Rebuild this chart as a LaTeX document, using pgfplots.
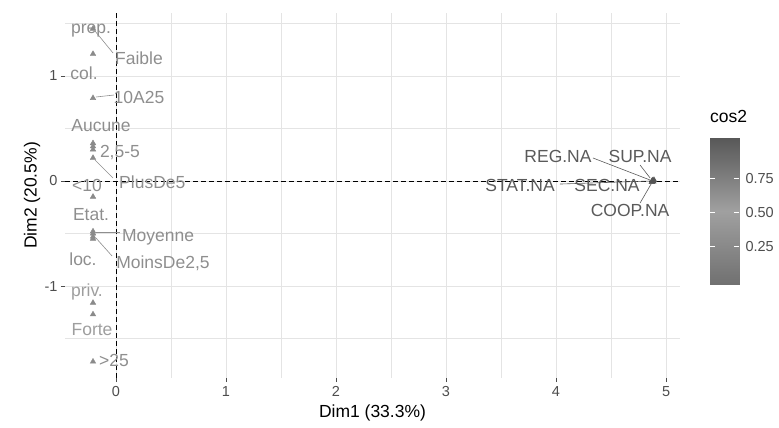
\documentclass[border=0pt]{standalone}
\usepackage{fontspec}
\setmainfont{Liberation Sans}
\usepackage{pgfplots}
\pgfplotsset{compat=1.18}
\definecolor{gridc}{HTML}{E4E4E4}
\definecolor{tickc}{HTML}{4D4D4D}
\definecolor{lab}{HTML}{8E8E8E}
\definecolor{labl}{HTML}{9E9E9E}
\definecolor{labdark}{HTML}{5A5A5A}
\definecolor{pt}{HTML}{8A8A8A}
\definecolor{ptdark}{HTML}{555555}
\begin{document}
\begin{tikzpicture}
\useasboundingbox (0,0) rectangle (779bp,428bp);
\begin{axis}[
  at={(65bp,50bp)}, anchor=south west, scale only axis,
  width=615bp, height=365bp,
  xmin=-0.4636, xmax=5.127, ymin=-1.876, ymax=1.6,
  axis line style={draw=none},
  xtick={0,1,2,3,4,5}, xticklabels={0,1,2,3,4,5},
  ytick={-1,0,1}, yticklabels={-1,0,1},
  minor xtick={-0.5,0.5,1.5,2.5,3.5,4.5},
  minor ytick={-1.5,-0.5,0.5,1.5},
  grid=both,
  major grid style={gridc, line width=0.9bp},
  minor grid style={gridc, line width=0.6bp},
  tick align=outside, major tick length=4bp, minor tick length=0pt,
  tick style={tickc, line width=0.8bp},
  xtick pos=bottom, ytick pos=left,
  ticklabel style={font=\fontsize{14.5bp}{16bp}\selectfont, text=tickc},
  xticklabel style={yshift=-1bp},
  label style={font=\fontsize{17.5bp}{19bp}\selectfont},
  xlabel={Dim1 (33.3\%)}, ylabel={Dim2 (20.5\%)},
  xlabel style={at={(axis description cs:0.5,-0.096)}, anchor=center},
  ylabel style={at={(axis description cs:-0.0537,0.5)}, anchor=center},
  clip=false,
]
% reference lines
\addplot[black, line width=0.8bp, dash pattern=on 4.5bp off 3.5bp] coordinates {(0,-1.876) (0,1.6)};
\addplot[black, line width=0.8bp, dash pattern=on 4.5bp off 3.5bp] coordinates {(-0.4636,0) (5.127,0)};
% connector segments (left)
\addplot[lab, line width=0.6bp] coordinates {(-0.191,1.4286) (-0.027,1.219)};
\addplot[lab, line width=0.6bp] coordinates {(-0.182,0.80) (-0.018,0.819)};
\addplot[lab, line width=0.6bp] coordinates {(-0.191,0.20) (-0.027,0.029)};
\addplot[lab, line width=0.6bp] coordinates {(-0.182,-0.486) (0.036,-0.486)};
\addplot[lab, line width=0.6bp] coordinates {(-0.182,-0.543) (-0.036,-0.714)};
% connector segments (right)
\addplot[labdark, line width=0.6bp] coordinates {(4.336,0.219) (4.855,0.0095)};
\addplot[labdark, line width=0.6bp] coordinates {(4.764,0.152) (4.855,0.029)};
\addplot[labdark, line width=0.6bp] coordinates {(4.036,-0.029) (4.855,0.0)};
\addplot[labdark, line width=0.6bp] coordinates {(4.764,-0.21) (4.864,-0.029)};
% points
\addplot[only marks, mark=triangle*, mark size=3.2bp, color=pt] coordinates {
(-0.209,1.45) (-0.209,1.21) (-0.209,0.79) (-0.209,0.36) (-0.209,0.33) (-0.209,0.30)
(-0.209,0.22) (-0.209,-0.15) (-0.209,-0.48) (-0.209,-0.50) (-0.209,-0.53) (-0.209,-0.55)
(-0.209,-1.16) (-0.209,-1.27) (-0.209,-1.72)};
\addplot[only marks, mark=triangle*, mark size=3.2bp, color=ptdark] coordinates {
(4.88,0.0) (4.89,0.01) (4.87,-0.01) (4.885,-0.005) (4.875,0.005)};
% labels
\begin{scope}[every node/.style={font=\fontsize{17.5bp}{19bp}\selectfont, inner sep=0pt, anchor=center}]
\node[text=lab] at (axis cs:-0.227,1.43) {prep.};
\node[text=lab] at (axis cs:0.209,1.171) {Faible};
\node[text=lab] at (axis cs:-0.29,1.03) {col.};
\node[text=lab] at (axis cs:0.209,0.80) {10A25};
\node[text=lab] at (axis cs:-0.136,0.524) {Aucune};
\node[text=lab] at (axis cs:0.036,0.267) {2,5-5};
\node[text=lab] at (axis cs:0.33,-0.01) {PlusDe5};
\node[text=lab] at (axis cs:-0.264,-0.038) {<10};
\node[text=lab] at (axis cs:-0.227,-0.324) {Etat.};
\node[text=lab] at (axis cs:0.382,-0.533) {Moyenne};
\node[text=lab] at (axis cs:0.427,-0.78) {MoinsDe2,5};
\node[text=lab] at (axis cs:-0.3,-0.743) {loc.};
\node[text=labl] at (axis cs:-0.264,-1.057) {priv.};
\node[text=labl] at (axis cs:-0.218,-1.419) {Forte};
\node[text=lab] at (axis cs:-0.018,-1.705) {>25};
\node[text=labdark] at (axis cs:4.018,0.229) {REG.NA};
\node[text=labdark] at (axis cs:4.764,0.229) {SUP.NA};
\node[text=labdark] at (axis cs:3.673,-0.038) {STAT.NA};
\node[text=labdark] at (axis cs:4.464,-0.038) {SEC.NA};
\node[text=labdark] at (axis cs:4.673,-0.276) {COOP.NA};
\end{scope}
\end{axis}
% colour bar
\begin{axis}[
  at={(710bp,143bp)}, anchor=south west, scale only axis,
  width=29bp, height=147bp,
  xmin=0, xmax=1, ymin=-0.03, ymax=1.05,
  axis line style={draw=none},
  xtick=\empty,
  ytick={0.25,0.5,0.75}, yticklabels={0.25,0.50,0.75},
  ytick pos=both, yticklabel pos=right,
  tick align=inside, major tick length=5bp,
  tick style={white, line width=0.9bp},
  yticklabel style={font=\fontsize{14.5bp}{16bp}\selectfont, text=tickc, xshift=3bp},
  colormap={cosmap}{rgb255=(112,112,112) rgb255=(160,160,160) rgb255=(88,88,88)},
  point meta min=-0.03, point meta max=1.05,
  axis on top,
  title={cos2},
  title style={at={(axis description cs:0,1)}, anchor=south west, inner sep=0pt, yshift=9bp, font=\fontsize{17.5bp}{19bp}\selectfont},
]
\addplot[surf, shader=interp, point meta=y] coordinates {
(0,-0.03) (1,-0.03)

(0,0.24) (1,0.24)

(0,0.51) (1,0.51)

(0,0.78) (1,0.78)

(0,1.05) (1,1.05)
};
\end{axis}
\end{tikzpicture}
\end{document}
